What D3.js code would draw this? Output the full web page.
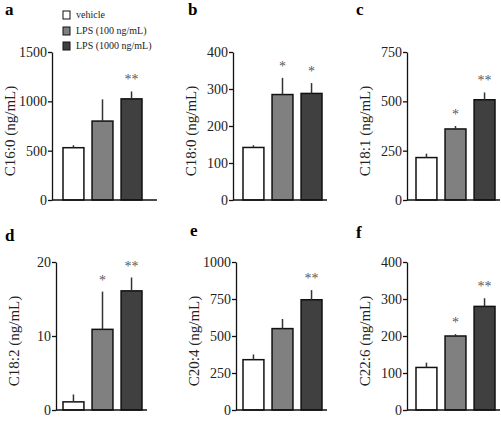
<!DOCTYPE html>
<html>
<head>
<meta charset="utf-8">
<script src="https://cdn.jsdelivr.net/npm/d3@7"></script>
<style>
  body { margin: 0; background: #fff; }
  text { font-family: "Liberation Serif", "Times New Roman", serif; }
</style>
</head>
<body>
<div id="chart"></div>
<script>
// groups and series
const groups = ["vehicle", "LPS (100 ng/mL)", "LPS (1000 ng/mL)"];
const fills = ["#ffffff", "#808080", "#404040"];

const panelLabels = ["a", "b", "c", "d", "e", "f"];
const yLabels = ["C16:0 (ng/mL)", "C18:0 (ng/mL)", "C18:1 (ng/mL)", "C18:2 (ng/mL)", "C20:4 (ng/mL)", "C22:6 (ng/mL)"];
const yMax = [1500, 400, 750, 20, 1000, 400];
const yTicks = [
  [0, 500, 1000, 1500],
  [0, 100, 200, 300, 400],
  [0, 250, 500, 750],
  [0, 10, 20],
  [0, 250, 500, 750, 1000],
  [0, 100, 200, 300, 400]
];
// mean values per panel (vehicle, LPS100, LPS1000)
const means = [
  [530, 800, 1025],
  [142, 285, 288],
  [215, 360, 508],
  [1.1, 10.9, 16.1],
  [340, 550, 745],
  [115, 200, 280]
];
// top of error bar
const errTop = [
  [555, 1020, 1100],
  [148, 330, 316],
  [235, 375, 545],
  [2.1, 16, 17.9],
  [375, 615, 810],
  [128, 205, 302]
];
const stars = [
  ["", "", "**"],
  ["", "*", "*"],
  ["", "*", "**"],
  ["", "*", "**"],
  ["", "", "**"],
  ["", "*", "**"]
];

const width = 501, height = 424;
const serif = "Liberation Serif";
const svg = d3.select("#chart").append("svg")
  .attr("width", width).attr("height", height);

// layout of each panel
const axisX = [52, 233, 407, 56, 236, 407];
const barStart = [63, 243, 416, 63, 243, 416];
const lineLen = [105, 94, 93, 91, 91, 93];
const rows = [[52, 200], [262, 410]];
const labelPos = [[5, 15], [188, 15], [356, 15], [5, 241], [190, 236], [356, 238]];

panelLabels.forEach((p, i) => {
  const [top, bottom] = rows[i < 3 ? 0 : 1];
  const ax = axisX[i];
  const g = svg.append("g");

  const y = d3.scaleLinear().domain([0, yMax[i]]).range([bottom, top]);
  const x = d3.scaleBand().domain(groups)
    .range([barStart[i], barStart[i] + 79]).paddingInner(0.28).paddingOuter(0);

  // bars
  g.selectAll("rect.bar")
    .data(groups)
    .join("rect")
    .attr("class", "bar")
    .attr("x", d => x(d))
    .attr("y", (d, j) => y(means[i][j]))
    .attr("width", x.bandwidth())
    .attr("height", (d, j) => bottom - y(means[i][j]))
    .attr("fill", (d, j) => fills[j])
    .attr("stroke", "#111")
    .attr("stroke-width", 1.5);

  // error bars (upper only)
  g.selectAll("line.err")
    .data(groups)
    .join("line")
    .attr("class", "err")
    .attr("x1", d => x(d) + x.bandwidth() / 2)
    .attr("x2", d => x(d) + x.bandwidth() / 2)
    .attr("y1", (d, j) => y(means[i][j]))
    .attr("y2", (d, j) => y(errTop[i][j]))
    .attr("stroke", "#333")
    .attr("stroke-width", 1.5);

  // significance marks
  g.selectAll("text.star")
    .data(groups)
    .join("text")
    .attr("class", "star")
    .attr("x", d => x(d) + x.bandwidth() / 2)
    .attr("y", (d, j) => y(errTop[i][j]) - 7)
    .attr("text-anchor", "middle")
    .attr("font-family", serif)
    .attr("font-size", 14)
    .attr("fill", "#333")
    .attr("fill-opacity", 0.85)
    .text((d, j) => stars[i][j]);

  // y axis
  const yAxis = d3.axisLeft(y).tickValues(yTicks[i]).tickFormat(d3.format("d"))
    .tickSize(4).tickSizeOuter(0).tickPadding(1);
  const ga = g.append("g").attr("transform", `translate(${ax},0)`).call(yAxis)
    .attr("font-family", serif).attr("font-size", 14);
  ga.selectAll("text").attr("fill", "#222");
  ga.selectAll("line, path").attr("stroke", "#111").attr("stroke-width", 1.3);

  // baseline
  g.append("line")
    .attr("x1", ax).attr("x2", ax + lineLen[i])
    .attr("y1", bottom).attr("y2", bottom)
    .attr("stroke", "#111").attr("stroke-width", 1.3);

  // y label
  g.append("text")
    .attr("transform", `translate(${ax - 42},${(top + bottom) / 2 + 5}) rotate(-90)`)
    .attr("text-anchor", "middle")
    .attr("dy", "0.35em")
    .attr("font-family", serif)
    .attr("font-size", 15)
    .attr("fill", "#222")
    .text(yLabels[i]);

  // panel letter
  g.append("text")
    .attr("x", labelPos[i][0]).attr("y", labelPos[i][1])
    .attr("font-family", serif)
    .attr("font-size", 17).attr("font-weight", "bold")
    .text(p);
});

// legend
const legend = svg.append("g");
const legendY = [11, 27, 42];
groups.forEach((name, j) => {
  legend.append("rect")
    .attr("x", 63).attr("y", legendY[j])
    .attr("width", 7).attr("height", 8)
    .attr("fill", fills[j]).attr("stroke", "#111").attr("stroke-width", 1);
  legend.append("text")
    .attr("x", 76).attr("y", legendY[j] + 7)
    .attr("font-family", serif)
    .attr("font-size", 10).attr("fill", "#222")
    .text(name);
});
</script>
</body>
</html>
